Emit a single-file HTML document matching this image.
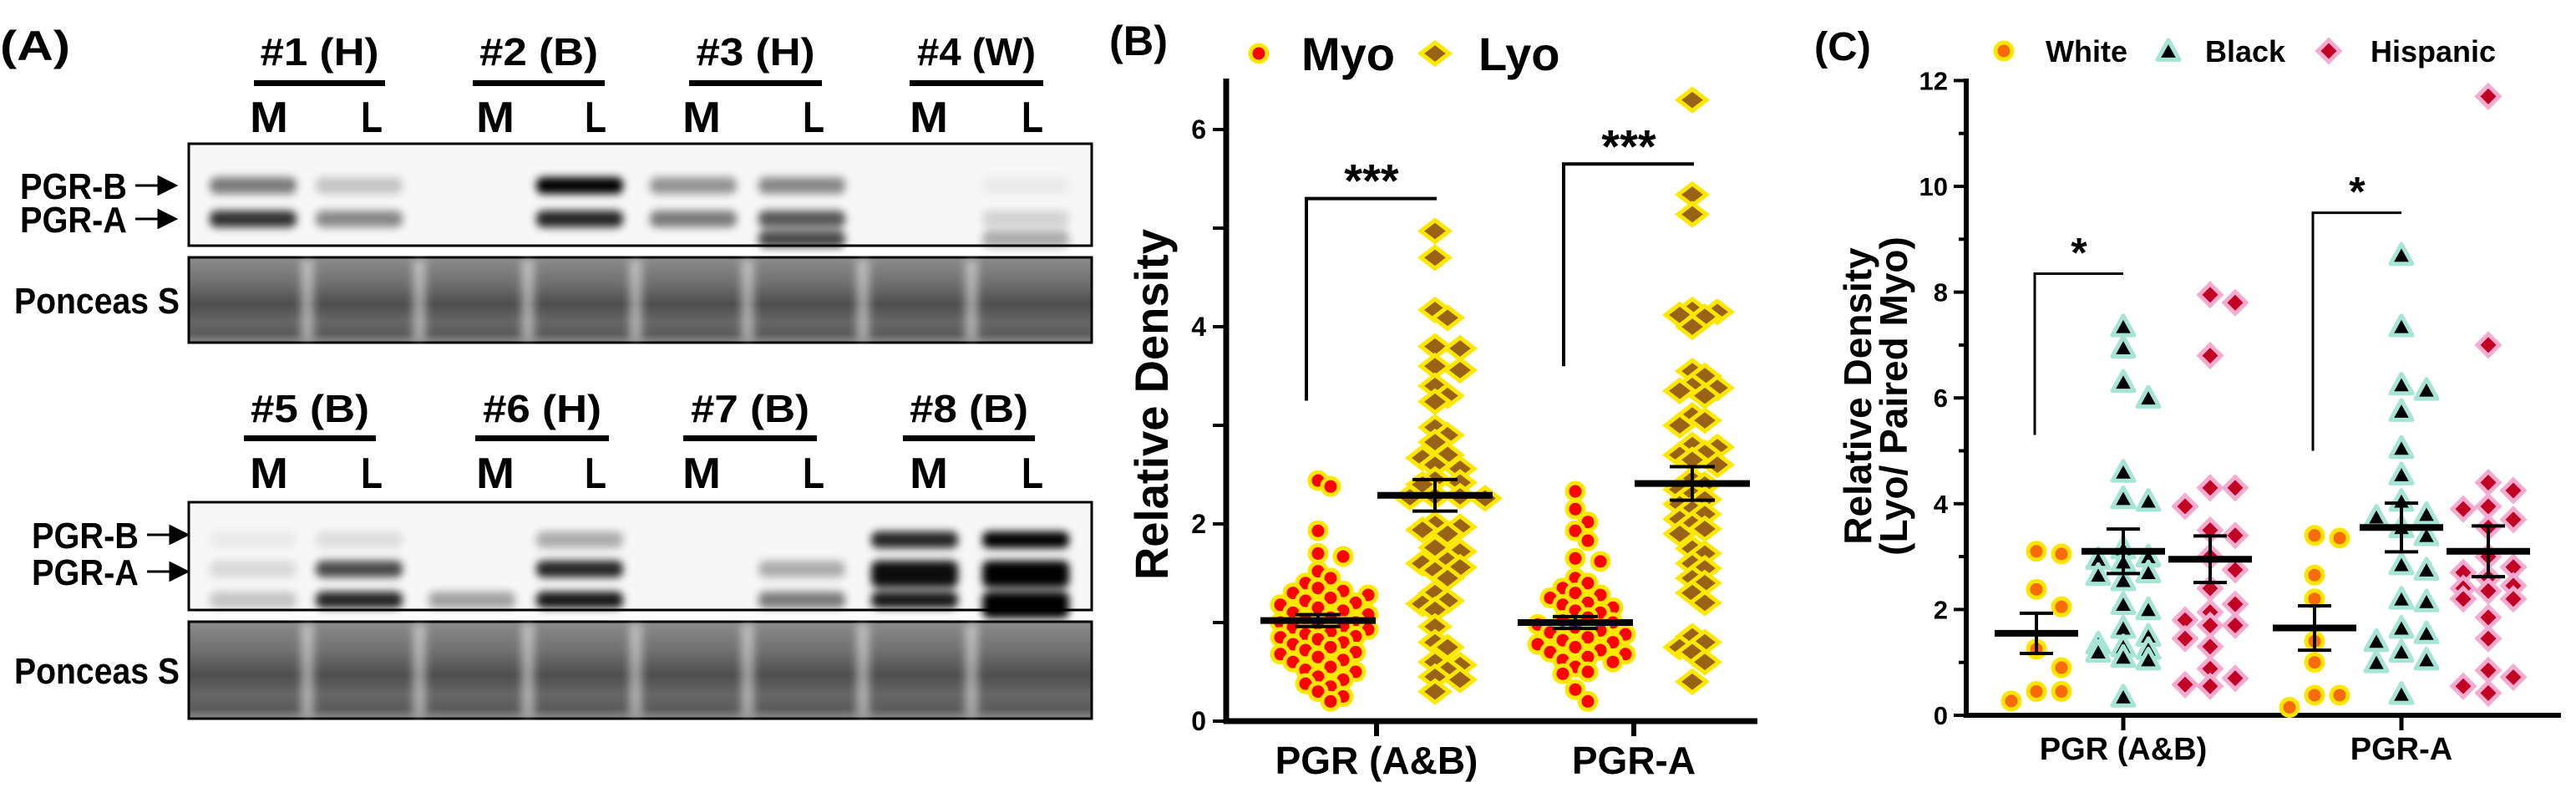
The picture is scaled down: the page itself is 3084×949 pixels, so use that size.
<!DOCTYPE html>
<html><head><meta charset="utf-8"><style>
html,body{margin:0;padding:0;background:#fff;}
svg{display:block;}
text{font-family:"Liberation Sans",sans-serif;font-weight:bold;fill:#000;}
</style></head><body>
<svg id="fig" width="3084" height="949" viewBox="0 0 3084 949" xmlns="http://www.w3.org/2000/svg">
<defs>
<filter id="blur4" x="-20%" y="-50%" width="140%" height="200%"><feGaussianBlur stdDeviation="5"/></filter>
<linearGradient id="ponc" x1="0" y1="0" x2="0" y2="1">
<stop offset="0" stop-color="#8c8c8c"/><stop offset="0.3" stop-color="#707070"/><stop offset="0.55" stop-color="#4e4e4e"/><stop offset="0.75" stop-color="#666"/><stop offset="0.9" stop-color="#5c5c5c"/><stop offset="1" stop-color="#8a8a8a"/></linearGradient>
</defs>

<g id="panelA">
<text x="0" y="72" font-size="50" textLength="84" lengthAdjust="spacingAndGlyphs">(A)</text>
</g>

<g id="panelB">
<text x="1328" y="66" font-size="50" textLength="70" lengthAdjust="spacingAndGlyphs">(B)</text>
<text transform="translate(1398,484) rotate(-90)" text-anchor="middle" font-size="56" textLength="420" lengthAdjust="spacingAndGlyphs">Relative Density</text>
</g>

<g id="panelC">
<text x="2172" y="72" font-size="48" textLength="68" lengthAdjust="spacingAndGlyphs">(C)</text>
<text transform="translate(2240,474) rotate(-90)" text-anchor="middle" font-size="46">Relative Density</text>
<text transform="translate(2283,474) rotate(-90)" text-anchor="middle" font-size="46">(Lyo/ Paired Myo)</text>
</g>
</svg>
<script>
// ---------- Panel B data ----------
const bCategories = ["PGR (A&B)", "PGR-A"];
const bSeries = ["Myo", "Lyo"];
const bTicks = [0, 2, 4, 6];
const myoAB = [2.44,2.38,1.93,1.7,1.67,1.52,1.45,1.4,1.35,1.32,1.3,1.28,1.25,1.22,1.2,1.18,1.15,1.12,1.1,1.08,1.05,1.03,1.0,1.0,0.98,0.96,0.95,0.93,0.9,0.88,0.86,0.85,0.83,0.8,0.78,0.75,0.72,0.7,0.68,0.65,0.62,0.6,0.55,0.52,0.5,0.45,0.42,0.38,0.35,0.3,0.25,0.2];
const lyoAB = [4.97,4.7,4.17,4.09,3.8,3.78,3.6,3.56,3.4,3.3,3.24,2.98,2.9,2.83,2.7,2.67,2.6,2.56,2.45,2.42,2.4,2.28,2.28,2.27,2.26,2.0,1.97,1.94,1.9,1.76,1.72,1.63,1.6,1.56,1.53,1.45,1.3,1.22,1.19,1.13,0.96,0.8,0.75,0.6,0.57,0.52,0.45,0.42,0.3];
const myoA = [2.33,2.15,2.02,1.93,1.83,1.65,1.62,1.45,1.4,1.35,1.3,1.28,1.25,1.2,1.18,1.15,1.12,1.1,1.05,1.02,1.0,0.98,0.95,0.92,0.9,0.88,0.85,0.82,0.8,0.78,0.75,0.72,0.7,0.68,0.65,0.62,0.6,0.55,0.5,0.48,0.32,0.2];
const lyoA = [6.3,5.34,5.14,4.17,4.15,4.12,4.1,4.0,3.55,3.5,3.4,3.38,3.35,3.3,3.1,3.05,3.0,2.8,2.78,2.72,2.7,2.65,2.6,2.45,2.4,2.35,2.3,2.25,2.2,2.15,2.1,2.05,2.0,1.95,1.9,1.75,1.7,1.6,1.55,1.45,1.4,1.3,1.2,0.86,0.8,0.75,0.7,0.6,0.4];
const bMeans = [1.02, 2.29, 1.0, 2.41];
const bSems = [0.06, 0.16, 0.06, 0.17];

// ---------- Panel C data ----------
const cCategories = ["PGR (A&B)", "PGR-A"];
const cSeries = ["White", "Black", "Hispanic"];
const cTicks = [0, 2, 4, 6, 8, 10, 12];
const whiteAB = [3.1,3.05,2.38,2.05,1.25,0.9,0.45,0.45,0.27];
const blackAB = [7.35,6.95,6.3,6.0,4.6,4.1,4.05,3.15,3.0,2.95,2.9,2.7,2.65,2.55,2.1,2.0,1.65,1.5,1.35,1.3,1.25,1.2,1.1,1.05,0.35];
const hispAB = [7.95,7.8,6.8,4.3,4.3,3.95,3.5,3.4,3.0,2.75,2.4,2.1,1.95,1.8,1.7,1.7,1.45,1.3,0.88,0.7,0.58,0.55];
const whiteA = [3.4,3.35,2.65,2.2,1.4,1.0,0.38,0.38,0.15];
const blackA = [8.7,7.35,6.25,6.15,5.75,5.05,4.55,4.05,3.8,3.75,3.55,3.4,2.85,2.75,2.2,2.15,1.65,1.55,1.4,1.2,1.05,1.0,0.4];
const hispA = [11.7,7.0,4.4,4.25,3.95,3.9,3.7,3.55,3.0,2.8,2.7,2.6,2.45,2.4,2.35,2.2,2.2,1.85,1.45,0.85,0.72,0.55,0.42];
const cMeans = [1.55, 3.1, 2.95, 1.65, 3.55, 3.1];
const cSems = [0.38, 0.42, 0.44, 0.42, 0.46, 0.48];

// ---------- Blot data ----------
const topGroups = ["#1 (H)", "#2 (B)", "#3 (H)", "#4 (W)"];
const botGroups = ["#5 (B)", "#6 (H)", "#7 (B)", "#8 (B)"];
const topBands = [[0.5,0.8,0],[0.2,0.45,0],[0,0,0],[1.0,0.85,0],[0.4,0.5,0],[0.45,0.65,0.7],[0,0,0],[0.05,0.15,0.3]];
const botBands = [[0.05,0.12,0.2],[0.1,0.7,0.85],[0,0,0.35],[0.3,0.85,0.9],[0,0,0],[0,0.3,0.5],[0.85,0.95,0.9],[1,1,1]];

const NS = "http://www.w3.org/2000/svg";
const svg = document.getElementById('fig');
function mk(tag, attrs, parent, text) {
  const e = document.createElementNS(NS, tag);
  for (const k in attrs) e.setAttribute(k, attrs[k]);
  if (text !== undefined) e.textContent = text;
  (parent || svg).appendChild(e);
  return e;
}
const gA = document.getElementById('panelA');
const gB = document.getElementById('panelB');
const gC = document.getElementById('panelC');

// ---------- Panel A ----------
const laneCenters = [303, 430, 565, 694, 830, 960, 1095, 1228];
const labelCenters = [322, 445, 593, 713, 840, 974, 1112, 1236];
function drawBlotSet(groups, bands, headY, lineY, mlY, boxTop, boxBot, pTop, pBot, bandYs, grpLines, labelX, arrowY) {
  groups.forEach((g, i) => {
    const t = mk('text', {x: (grpLines[i][0]+grpLines[i][1])/2, y: headY, 'font-size': 46, 'text-anchor': 'middle', textLength: 142, lengthAdjust: 'spacingAndGlyphs'}, gA, g);
    
    
    const l = mk('rect', {x: grpLines[i][0], y: lineY - 3, width: grpLines[i][1]-grpLines[i][0], height: 7, fill: '#000'}, gA);
    
    
  });
  labelCenters.forEach((cx, i) => {
    const t = mk('text', {x: cx, y: mlY, 'font-size': 52, 'text-anchor': 'middle', textLength: i % 2 ? 26 : 46, lengthAdjust: 'spacingAndGlyphs'}, gA, i % 2 ? 'L' : 'M');
    
    
  });
  const box = mk('rect', {x: 226, y: boxTop, width: 1081, height: boxBot - boxTop, fill: '#f7f7f7', stroke: '#000', 'stroke-width': 3}, gA);
  
  
  const bg = mk('g', {filter: 'url(#blur4)'}, gA);
  bands.forEach((lane, i) => {
    lane.forEach((v, j) => {
      if (v <= 0) return;
      const h = 20;
      const r = mk('rect', {x: laneCenters[i] - 52, y: bandYs[j] - h/2, width: 104, height: h + (v > 0.9 && j > 0 ? 12 : 0), rx: 8, fill: '#000', opacity: v}, bg);
      
      
    });
  });
  const pb = mk('rect', {x: 226, y: pTop, width: 1081, height: pBot - pTop, fill: 'url(#ponc)', stroke: '#000', 'stroke-width': 3}, gA);
  
  
  const gaps = [368, 502, 632, 761, 895, 1033, 1163];
  const gg = mk('g', {filter: 'url(#blur4)'}, gA);
  gaps.forEach(x => {
    const r = mk('rect', {x: x - 8, y: pTop + 3, width: 16, height: pBot - pTop - 6, fill: '#fff', opacity: 0.45}, gg);
    
    
  });
  ['PGR-B', 'PGR-A'].forEach((s, j) => {
    const t = mk('text', {x: labelX, y: arrowY[j] + 16, 'font-size': 44, textLength: 128, lengthAdjust: 'spacingAndGlyphs'}, gA, s);
    
    
    const a = mk('path', {d: `M${labelX+138} ${arrowY[j]} H${labelX+172} M${labelX+166} ${arrowY[j]-10} L${labelX+186} ${arrowY[j]} L${labelX+166} ${arrowY[j]+10} Z`, stroke: '#000', 'stroke-width': 3, fill: '#000'}, gA);
    
    
  });
  const ps = mk('text', {x: 17, y: (pTop + pBot)/2 + 16, 'font-size': 44, textLength: 198, lengthAdjust: 'spacingAndGlyphs'}, gA, 'Ponceas S');
  
  
}
drawBlotSet(topGroups, topBands, 78, 99, 158, 172, 294, 308, 410, [222, 262, 286],
  [[304,461],[566,724],[825,984],[1089,1249]], 24, [222, 262]);
drawBlotSet(botGroups, botBands, 505, 524, 584, 601, 730, 744, 860, [646, 681, 718],
  [[292,450],[569,729],[818,978],[1081,1239]], 38, [640, 684]);

// ---------- beeswarm helper (bounded width) ----------
function swarm(vals, cx, yfn, dmin, step, maxK) {
  const placed = [];
  const order = vals.map((v, i) => i).sort((a, b) => vals[b] - vals[a]);
  const out = new Array(vals.length);
  order.forEach(i => {
    const y = yfn(vals[i]);
    let best = null, bestD = -1;
    for (let k = 0; k <= 2 * maxK; k++) {
      const off = (k === 0 ? 0 : Math.ceil(k/2) * step * (k % 2 ? 1 : -1));
      const x = cx + off;
      let md = Infinity;
      placed.forEach(p => { md = Math.min(md, Math.hypot(p[0]-x, p[1]-y)); });
      if (md >= dmin) { best = x; break; }
      if (md > bestD) { bestD = md; best = x; }
    }
    placed.push([best, y]); out[i] = [best, y];
  });
  return out;
}

// ---------- Panel B ----------
const bX0 = 1468, bX1 = 2104, bY0 = 863, bUnit = 118;
const yB = v => bY0 - v * bUnit;
const bCat = i => [1648, 1956][i];
const bGroupX = (cat, s) => bCat(cat) + (s === 0 ? -70 : 70);
let e = mk('line', {x1: bX0, y1: 94, x2: bX0, y2: bY0 + 3, stroke: '#000', 'stroke-width': 7}, gB);
 
e = mk('line', {x1: bX0 - 3, y1: bY0, x2: bX1, y2: bY0, stroke: '#000', 'stroke-width': 7}, gB);
 
for (let v = 0; v <= 6; v++) {
  const t = mk('line', {x1: bX0 - 16, y1: yB(v), x2: bX0, y2: yB(v), stroke: '#000', 'stroke-width': 4}, gB);
   
}
bTicks.forEach(v => {
  const t = mk('text', {x: bX0 - 24, y: yB(v) + 11, 'font-size': 32, 'text-anchor': 'end'}, gB, String(v));
   
});
bCategories.forEach((c, i) => {
  const t = mk('line', {x1: bCat(i), y1: bY0, x2: bCat(i), y2: bY0 + 18, stroke: '#000', 'stroke-width': 6}, gB);
   
  const l = mk('text', {x: bCat(i), y: 926, 'font-size': 46, 'text-anchor': 'middle'}, gB, c);
   
});
function myoMark(x, y, parent, name) {
  const c = mk('circle', {cx: x, cy: y, r: 10, fill: '#ff0000', stroke: '#ffe800', 'stroke-width': 5}, parent);
   
}
function lyoMark(x, y, parent, name) {
  const s = 13;
  const d = mk('path', {d: `M${x} ${y-s} L${x+s*1.3} ${y} L${x} ${y+s} L${x-s*1.3} ${y} Z`, fill: '#9a6216', stroke: '#ffe800', 'stroke-width': 5}, parent);
   
}
const bData = [myoAB, lyoAB, myoA, lyoA];
bData.forEach((vals, gi) => {
  const cat = Math.floor(gi / 2), s = gi % 2;
  const pts = swarm(vals, bGroupX(cat, s), yB, 16, 15, 4);
  pts.forEach(p => (s === 0 ? myoMark : lyoMark)(p[0], p[1], gB, s === 0 ? 'myo-point' : 'lyo-point'));
});
bData.forEach((vals, gi) => {
  const cat = Math.floor(gi / 2), s = gi % 2;
  const cx = bGroupX(cat, s), m = bMeans[gi], se = bSems[gi];
  let l = mk('line', {x1: cx - 69, y1: yB(m), x2: cx + 69, y2: yB(m), stroke: '#000', 'stroke-width': 8}, gB);
   
  l = mk('path', {d: `M${cx} ${yB(m+se)} V${yB(m-se)} M${cx-27} ${yB(m+se)} H${cx+27} M${cx-27} ${yB(m-se)} H${cx+27}`, stroke: '#000', 'stroke-width': 4, fill: 'none'}, gB);
   
});
[[0, 5.3, 3.25], [1, 5.65, 3.6]].forEach(([cat, top, drop]) => {
  const x1 = bGroupX(cat, 0) - 14, x2 = bGroupX(cat, 1) + 2;
  let p = mk('path', {d: `M${x1} ${yB(drop)} V${yB(top)} H${x2}`, stroke: '#000', 'stroke-width': 4, fill: 'none'}, gB);
   
  p = mk('text', {x: (x1 + x2)/2, y: yB(top) - 2, 'font-size': 56, 'text-anchor': 'middle'}, gB, '***');
   
});
myoMark(1507, 64, gB, 'legend-myo-marker');
e = mk('text', {x: 1558, y: 84, 'font-size': 56}, gB, bSeries[0]);
 
lyoMark(1718, 64, gB, 'legend-lyo-marker');
e = mk('text', {x: 1770, y: 84, 'font-size': 56}, gB, bSeries[1]);
 

// ---------- Panel C ----------
const cX0 = 2354, cX1 = 3066, cY0 = 856, cUnit = 63.3;
const yC = v => cY0 - v * cUnit;
const cCat = i => [2542, 2875][i];
const cGroupX = (cat, s) => cCat(cat) + (s - 1) * 104;
e = mk('line', {x1: cX0, y1: 94, x2: cX0, y2: cY0 + 3, stroke: '#000', 'stroke-width': 6}, gC);
 
e = mk('line', {x1: cX0 - 3, y1: cY0, x2: cX1, y2: cY0, stroke: '#000', 'stroke-width': 6}, gC);
 
for (let v = 0; v <= 12; v++) {
  const t = mk('line', {x1: cX0 - (v % 2 ? 9 : 15), y1: yC(v), x2: cX0, y2: yC(v), stroke: '#000', 'stroke-width': 4}, gC);
   
}
cTicks.forEach(v => {
  const t = mk('text', {x: cX0 - 22, y: yC(v) + 11, 'font-size': 31, 'text-anchor': 'end'}, gC, String(v));
   
});
cCategories.forEach((c, i) => {
  const t = mk('line', {x1: cCat(i), y1: cY0, x2: cCat(i), y2: cY0 + 18, stroke: '#000', 'stroke-width': 5}, gC);
   
  const l = mk('text', {x: cCat(i), y: 909, 'font-size': 38, 'text-anchor': 'middle'}, gC, c);
   
});
function whiteMark(x, y, parent, name) {
  const c = mk('circle', {cx: x, cy: y, r: 10, fill: '#f86a0c', stroke: '#ffe600', 'stroke-width': 5}, parent);
   
}
function blackMark(x, y, parent, name) {
  const s = 13;
  const d = mk('path', {d: `M${x} ${y-s} L${x+s} ${y+s*0.8} L${x-s} ${y+s*0.8} Z`, fill: '#000', stroke: '#a6e4d6', 'stroke-width': 5, 'stroke-linejoin': 'round'}, parent);
   
}
function hispMark(x, y, parent, name) {
  const s = 13;
  const d = mk('path', {d: `M${x} ${y-s} L${x+s} ${y} L${x} ${y+s} L${x-s} ${y} Z`, fill: '#c20024', stroke: '#f5aad0', 'stroke-width': 5}, parent);
   
}
const cMarks = [whiteMark, blackMark, hispMark];
const cNames = ['white-point', 'black-point', 'hispanic-point'];
const cData = [whiteAB, blackAB, hispAB, whiteA, blackA, hispA];
cData.forEach((vals, gi) => {
  const cat = Math.floor(gi / 3), s = gi % 3;
  const pts = swarm(vals, cGroupX(cat, s), yC, 24, 30, 1);
  pts.forEach(p => cMarks[s](p[0], p[1], gC, cNames[s]));
});
cData.forEach((vals, gi) => {
  const cat = Math.floor(gi / 3), s = gi % 3;
  const cx = cGroupX(cat, s), m = cMeans[gi], se = cSems[gi];
  let l = mk('line', {x1: cx - 50, y1: yC(m), x2: cx + 50, y2: yC(m), stroke: '#000', 'stroke-width': 8}, gC);
   
  l = mk('path', {d: `M${cx} ${yC(m+se)} V${yC(m-se)} M${cx-20} ${yC(m+se)} H${cx+20} M${cx-20} ${yC(m-se)} H${cx+20}`, stroke: '#000', 'stroke-width': 4, fill: 'none'}, gC);
   
});
[[0, 8.35, 5.3], [1, 9.5, 5.0]].forEach(([cat, top, drop]) => {
  const x1 = cGroupX(cat, 0) - 2, x2 = cGroupX(cat, 1);
  let p = mk('path', {d: `M${x1} ${yC(drop)} V${yC(top)} H${x2}`, stroke: '#000', 'stroke-width': 3, fill: 'none'}, gC);
   
  p = mk('text', {x: (x1 + x2)/2, y: yC(top) - 8, 'font-size': 50, 'text-anchor': 'middle'}, gC, '*');
   
});
const legX = [[2399, 2449], [2596, 2640], [2788, 2838]];
cSeries.forEach((s, i) => {
  cMarks[i](legX[i][0], 61, gC, 'legend-' + s.toLowerCase() + '-marker');
  const t = mk('text', {x: legX[i][1], y: 74, 'font-size': 36}, gC, s);
  
  
});
</script>
</body></html>
